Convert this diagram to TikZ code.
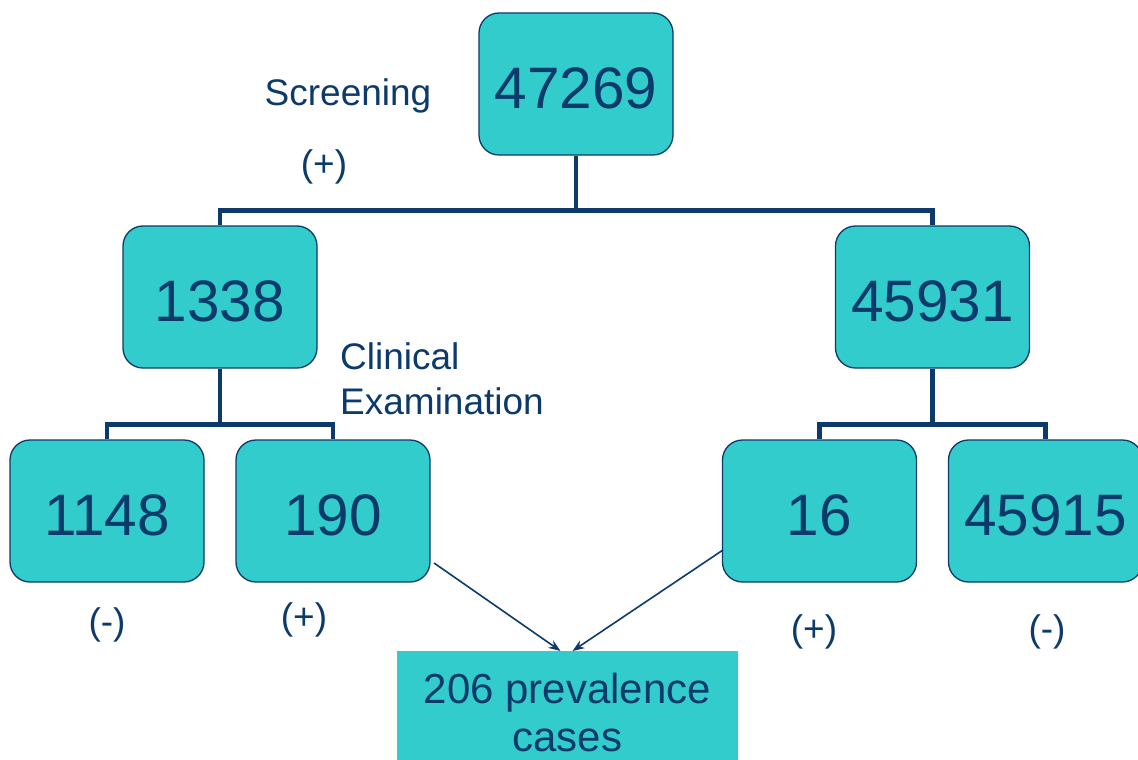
\documentclass[tikz,border=0pt]{standalone}
\usepackage{fontspec}
\setmainfont{Liberation Sans}
\usetikzlibrary{arrows.meta,calc}
\definecolor{boxfill}{HTML}{33CCCC}
\definecolor{navy}{HTML}{0B3A6B}
\begin{document}
\begin{tikzpicture}[x=1pt,y=-1pt,
  numbox/.style={draw=navy,line width=1.3pt,fill=boxfill,rounded corners=20pt,
    minimum width=194pt,minimum height=142pt,inner sep=0pt,text=navy,
    text height=48pt,text depth=0pt,
    font=\fontsize{58.5}{60}\selectfont},
  bar/.style={draw=navy,line width=4.5pt},
  lbl/.style={text=navy,font=\fontsize{37}{45}\selectfont,inner sep=0pt},
  arr/.style={draw=navy,line width=1.6pt,-{Stealth[length=12pt,width=9pt]}}]
\useasboundingbox (0,0) rectangle (1138,760);
\node[numbox] (top) at (576,84) {47269};
\node[numbox] (a) at (220,297) {1338};
\node[numbox] (b) at (932.5,297) {45931};
\node[numbox] (a1) at (107,511) {1148};
\node[numbox] (a2) at (333,511) {190};
\node[numbox] (b1) at (819.5,511) {16};
\node[numbox] (b2) at (1045.5,511) {45915};
\node[fill=boxfill,minimum width=341pt,minimum height=122pt,inner sep=0pt,anchor=north,
  text=navy,align=center,font=\fontsize{42}{48}\selectfont] (prev) at (567.5,651)
  {206 prevalence\\cases};
% tree connectors
\coordinate (j0) at ($(top.south)+(0,55)$);
\draw[bar] (top.south) -- (j0);
\draw[bar] (a.north) |- (j0) -| (b.north);
\coordinate (j1) at ($(a.south)+(0,56)$);
\draw[bar] (a.south) -- (j1);
\draw[bar] (a1.north) |- (j1) -| (a2.north);
\coordinate (j2) at ($(b.south)+(0,56)$);
\draw[bar] (b.south) -- (j2);
\draw[bar] (b1.north) |- (j2) -| (b2.north);
% arrows
\coordinate (s1) at (434,563);
\coordinate (s2) at (723,550);
\draw[arr] (s1) -- ($(prev.north)+(-7,0)$);
\draw[arr] (s2) -- ($(prev.north)+(5,0)$);
% labels
\node[lbl] (scr) at (348,96) {Screening};
\node[lbl] (p0) at (324,167) {(+)};
\node[lbl,align=left,anchor=west] (ce) at (340,379) {Clinical\\Examination};
\node[lbl] (m1) at (107,625) {(-)};
\node[lbl] (p1) at (304,620) {(+)};
\node[lbl] (p2) at (814,632) {(+)};
\node[lbl] (m2) at (1047,632) {(-)};
\end{tikzpicture}
\end{document}
